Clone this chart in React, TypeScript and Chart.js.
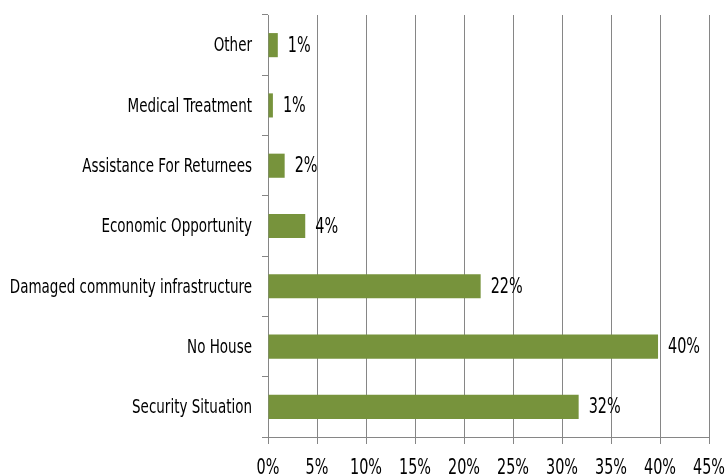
import React, { useEffect, useRef } from "react";
import { Chart, registerables } from "chart.js";

Chart.register(...registerables);

const categories = [
  "Other",
  "Medical Treatment",
  "Assistance For Returnees",
  "Economic Opportunity",
  "Damaged community infrastructure",
  "No House",
  "Security Situation",
];
const values = [1.0, 0.5, 1.7, 3.8, 21.7, 39.8, 31.7];
const valueLabels = ["1%", "1%", "2%", "4%", "22%", "40%", "32%"];
const xTicks = [0, 5, 10, 15, 20, 25, 30, 35, 40, 45];
const xTickLabels = ["0%", "5%", "10%", "15%", "20%", "25%", "30%", "35%", "40%", "45%"];

const FONT = "'Liberation Sans Narrow', 'DejaVu Sans Condensed', sans-serif";
const STRETCH = 1.35;

function drawStretched(ctx: any, text: string, x: number, y: number, align: string, size: number) {
  ctx.save();
  ctx.font = `${size}px ${FONT}`;
  ctx.fillStyle = "#000";
  ctx.textAlign = align;
  ctx.textBaseline = "middle";
  ctx.translate(x, y);
  ctx.scale(1, STRETCH);
  ctx.fillText(text, 0, 0);
  ctx.restore();
}

const textPlugin = {
  id: "stretchedText",
  afterDatasetsDraw(chart: any) {
    const ctx = chart.ctx;
    const meta = chart.getDatasetMeta(0);
    const xs = chart.scales.x;
    const ys = chart.scales.y;
    meta.data.forEach((bar: any, i: number) => {
      drawStretched(ctx, valueLabels[i], bar.x + 10, bar.y + 1, "left", 16);
    });
    categories.forEach((c, i) => {
      drawStretched(ctx, c, ys.right - 16, ys.getPixelForValue(i) + 1, "right", 15);
    });
    xTicks.forEach((v, i) => {
      drawStretched(ctx, xTickLabels[i], xs.getPixelForValue(v), xs.top + 31, "center", 16);
    });
  },
};

export default function App() {
  const ref = useRef<HTMLCanvasElement>(null);
  useEffect(() => {
    if (!ref.current) return;
    const chart = new Chart(ref.current, {
      type: "bar",
      data: {
        labels: categories,
        datasets: [
          {
            data: values,
            backgroundColor: "#77933C",
            barPercentage: 0.4,
            categoryPercentage: 1.0,
          },
        ],
      },
      options: {
        indexAxis: "y",
        animation: false,
        responsive: false,
        maintainAspectRatio: false,
        layout: { padding: { top: 15, right: 18, left: 0, bottom: 0 } },
        plugins: { legend: { display: false }, tooltip: { enabled: false } },
        scales: {
          x: {
            min: 0,
            max: 45,
            afterBuildTicks: (axis: any) => {
              axis.ticks = xTicks.map((v) => ({ value: v }));
            },
            afterFit: (axis: any) => {
              axis.height = 39;
              axis.paddingLeft = 0;
              axis.paddingRight = 0;
            },
            grid: {
              color: "#868686",
              lineWidth: 1,
              drawOnChartArea: true,
              drawTicks: true,
              tickLength: 7,
            },
            border: { display: true, color: "#868686" },
            ticks: { display: false },
          },
          y: {
            afterFit: (axis: any) => {
              axis.width = 268;
              axis.paddingTop = 0;
              axis.paddingBottom = 0;
            },
            grid: {
              color: "#868686",
              drawOnChartArea: false,
              drawTicks: true,
              tickLength: 6,
              offset: true,
            },
            border: { display: true, color: "#868686" },
            ticks: { display: false },
          },
        },
      },
      plugins: [textPlugin],
    });
    return () => chart.destroy();
  }, []);
  return (
    <div style={{ position: "fixed", left: 0, top: 0, width: 727, height: 476, background: "#fff" }}>
      <canvas ref={ref} width={727} height={476} style={{ display: "block" }} />
    </div>
  );
}
